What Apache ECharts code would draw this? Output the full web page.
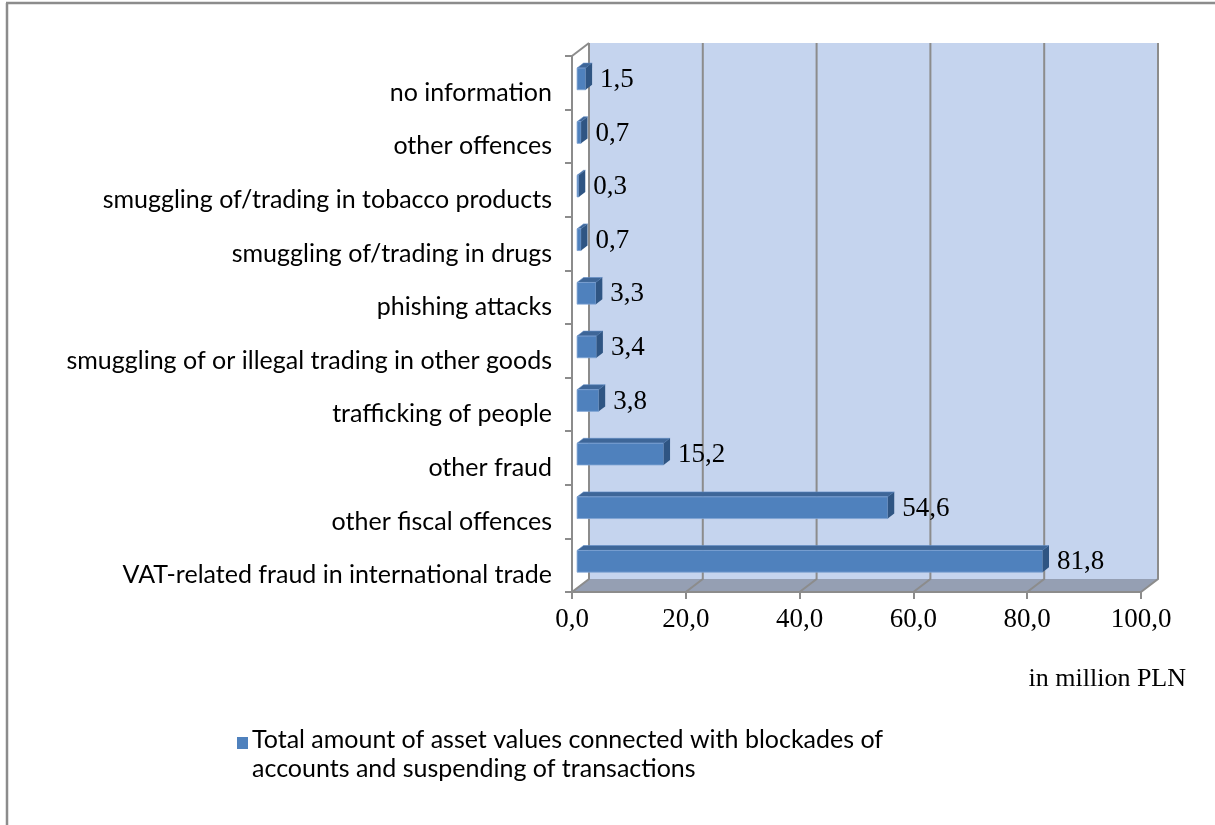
<!DOCTYPE html>
<html>
<head>
<meta charset="utf-8">
<script src="https://cdn.jsdelivr.net/npm/echarts@6/dist/echarts.min.js"></script>
<style>
  html, body { margin: 0; padding: 0; background: #ffffff; }
  #chart { width: 1215px; height: 825px; }
</style>
</head>
<body>
<div id="chart"></div>
<script>
// Categories, bottom to top
const categories = [
  'VAT-related fraud in international trade',
  'other fiscal offences',
  'other fraud',
  'trafficking of people',
  'smuggling of or illegal trading in other goods',
  'phishing attacks',
  'smuggling of/trading in drugs',
  'smuggling of/trading in tobacco products',
  'other offences',
  'no information'
];
// Asset values, million PLN
const values = [81.8, 54.6, 15.2, 3.8, 3.4, 3.3, 0.7, 0.3, 0.7, 1.5];
// Value axis ticks
const valueTicks = [0, 20, 40, 60, 80, 100];
const seriesName = 'Total amount of asset values connected with blockades of\naccounts and suspending of transactions';
const unitLabel = 'in million PLN';

// Pseudo-3D depth of the plot box (pixels from front plane to back wall)
const DX = 17, DY = -13;
// Bar depth placement (fractions of the box depth) and thickness (fraction of band)
const BAR_FRONT = 0.3, BAR_BACK = 0.68, BAR_RATIO = 0.405;

const SANS = 'Lato, "Open Sans", sans-serif';
const SERIF = '"Liberation Serif", "Times New Roman", serif';
const GRID_GRAY = '#8c8c8c';

function fmt(v) { return v.toFixed(1).replace('.', ','); }

const chart = echarts.init(document.getElementById('chart'), null, { renderer: 'canvas' });

// Back wall, floor and gridlines drawn from the grid's own scale
function renderFrame(params, api) {
  const cs = params.coordSys;
  const x0 = cs.x, x1 = cs.x + cs.width;
  const yT = cs.y, yB = cs.y + cs.height;
  const children = [];
  children.push({
    type: 'polygon',
    shape: { points: [[x0 + DX, yT + DY], [x1 + DX, yT + DY], [x1 + DX, yB + DY], [x0 + DX, yB + DY]] },
    style: { fill: '#c5d4ee' }
  });
  children.push({
    type: 'polygon',
    shape: { points: [[x0, yB], [x1, yB], [x1 + DX, yB + DY], [x0 + DX, yB + DY]] },
    style: { fill: '#959fb3' }
  });
  valueTicks.forEach(function (t) {
    const x = api.coord([t, 0])[0];
    children.push({
      type: 'polyline',
      shape: { points: [[x + DX, yT + DY], [x + DX, yB + DY], [x, yB]] },
      style: { stroke: GRID_GRAY, lineWidth: 2, fill: null }
    });
  });
  // left top edge of the box
  children.push({
    type: 'line',
    shape: { x1: x0, y1: yT, x2: x0 + DX, y2: yT + DY },
    style: { stroke: GRID_GRAY, lineWidth: 2 }
  });
  // floor front edge
  children.push({
    type: 'line',
    shape: { x1: x0, y1: yB, x2: x1, y2: yB },
    style: { stroke: GRID_GRAY, lineWidth: 2 }
  });
  return { type: 'group', children: children };
}

// 3D-looking horizontal bar with its value label
function renderBar(params, api) {
  const v = api.value(0), c = api.value(1);
  const base = api.coord([0, c]);
  const end = api.coord([v, c]);
  const band = api.size([0, 1])[1];
  const h = band * BAR_RATIO;
  const fx = BAR_FRONT * DX, fy = BAR_FRONT * DY;
  const dx = (BAR_BACK - BAR_FRONT) * DX, dy = (BAR_BACK - BAR_FRONT) * DY;
  const cy = base[1] + fy;
  const top = cy - h / 2, bot = cy + h / 2;
  const L = base[0] + fx, R = end[0] + fx;
  return {
    type: 'group',
    children: [
      {
        type: 'polygon',
        shape: { points: [[L, top], [R, top], [R + dx, top + dy], [L + dx, top + dy]] },
        style: { fill: '#3e6698', stroke: '#5f8cc4', lineWidth: 0.6 }
      },
      {
        type: 'rect',
        shape: { x: L, y: top, width: R - L, height: h },
        style: { fill: '#4f81bd', stroke: '#7fa3d3', lineWidth: 0.8 }
      },
      {
        type: 'polygon',
        shape: { points: [[R, top], [R + dx, top + dy], [R + dx, bot + dy], [R, bot]] },
        style: { fill: '#2f5583' }
      },
      {
        type: 'text',
        style: {
          x: R + dx + 8, y: cy + 1,
          text: fmt(v),
          fill: '#000000',
          font: '27px ' + SERIF,
          align: 'left', verticalAlign: 'middle'
        }
      }
    ]
  };
}

const option = {
  backgroundColor: '#ffffff',
  animation: false,
  grid: { left: 572, top: 56, width: 569, height: 536 },
  xAxis: {
    type: 'value',
    min: 0, max: 100, interval: 20,
    z: 5,
    axisLine: { show: true, lineStyle: { color: GRID_GRAY, width: 2 } },
    axisTick: { show: true, length: 7, lineStyle: { color: GRID_GRAY, width: 2 } },
    splitLine: { show: false },
    axisLabel: {
      margin: 14,
      color: '#000000',
      fontFamily: SERIF,
      fontSize: 27,
      formatter: function (v) { return fmt(v); }
    }
  },
  yAxis: {
    type: 'category',
    data: categories,
    z: 5,
    axisLine: { show: true, lineStyle: { color: GRID_GRAY, width: 2 } },
    axisTick: { show: true, length: 7, lineStyle: { color: GRID_GRAY, width: 2 } },
    splitLine: { show: false },
    axisLabel: {
      margin: 20,
      color: '#000000',
      fontFamily: SANS,
      fontSize: 25,
      verticalAlign: 'top',
      lineHeight: 20
    }
  },
  series: [
    {
      type: 'custom',
      name: 'frame',
      z: 1,
      silent: true,
      clip: false,
      renderItem: renderFrame,
      data: [[0, 0]]
    },
    {
      type: 'custom',
      name: seriesName,
      z: 3,
      clip: false,
      renderItem: renderBar,
      encode: { x: 0, y: 1 },
      data: values.map(function (v, i) { return [v, i]; })
    }
  ],
  graphic: [
    // outer border
    { type: 'line', shape: { x1: 7, y1: 3, x2: 7, y2: 825 }, style: { stroke: '#8c8c8c', lineWidth: 2.5 } },
    { type: 'line', shape: { x1: 6, y1: 3, x2: 1215, y2: 3 }, style: { stroke: '#8c8c8c', lineWidth: 2.5 } },
    // unit caption
    {
      type: 'text', right: 1215 - 1186, top: 666,
      style: { text: unitLabel, fill: '#000000', font: '26px ' + SERIF }
    },
    // legend
    { type: 'rect', shape: { x: 237, y: 737, width: 11, height: 12 }, style: { fill: '#4f81bd' } },
    {
      type: 'text', left: 252, top: 725,
      style: { text: seriesName, fill: '#000000', font: '25px ' + SANS, lineHeight: 29 }
    }
  ]
};

chart.setOption(option);
</script>
</body>
</html>
